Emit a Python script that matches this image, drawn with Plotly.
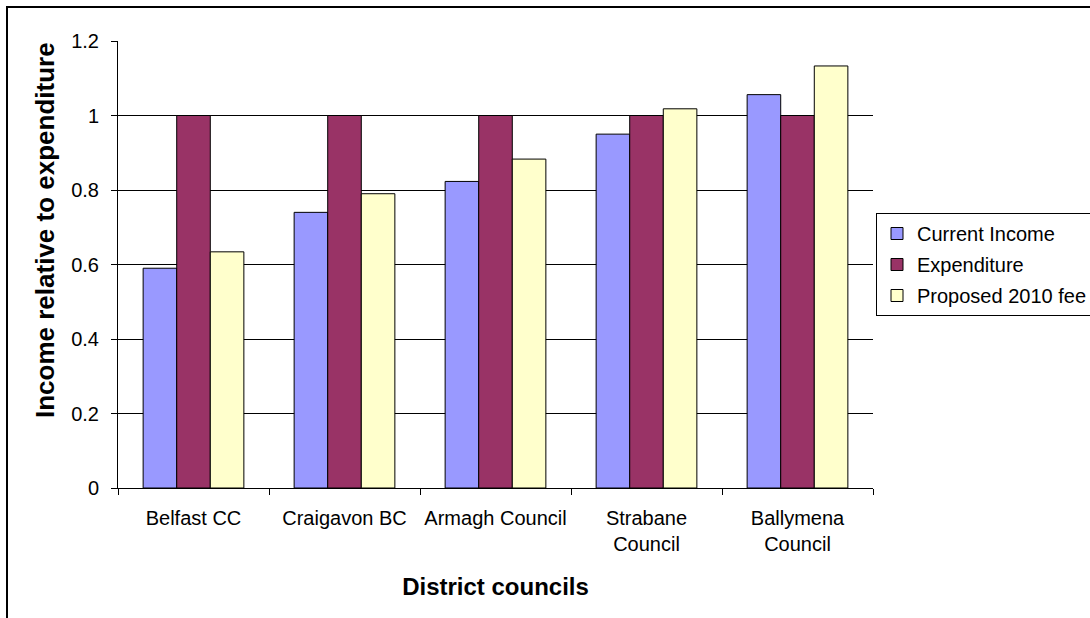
import plotly.graph_objects as go

categories = ["Belfast CC", "Craigavon BC", "Armagh Council", "Strabane<br>Council", "Ballymena<br>Council"]
current_income = [0.59, 0.74, 0.823, 0.95, 1.056]
expenditure = [1.0, 1.0, 1.0, 1.0, 1.0]
proposed_2010 = [0.634, 0.79, 0.883, 1.018, 1.133]
series_names = ["Current Income", "Expenditure", "Proposed 2010 fee"]
series_colors = ["#9999FF", "#993366", "#FFFFCC"]
y_ticks = [0, 0.2, 0.4, 0.6, 0.8, 1.0, 1.2]
y_ticktext = ["0", "0.2", "0.4", "0.6", "0.8", "1", "1.2"]
grid_vals = [0.2, 0.4, 0.6, 0.8, 1.0]

FONT = "Liberation Sans, Arial, sans-serif"

fig = go.Figure()
for name, vals, col in zip(series_names, [current_income, expenditure, proposed_2010], series_colors):
    fig.add_trace(go.Bar(
        x=categories, y=vals, name=name, legendgroup=name,
        marker=dict(color=col, line=dict(color="black", width=1)),
        xaxis="x", yaxis="y",
    ))

W, H = 1090, 618
L, R, T, B = 118, 217, 41, 130
pw, ph = W - L - R, H - T - B

fig.update_layout(
    width=W, height=H,
    margin=dict(l=L, r=R, t=T, b=B, autoexpand=False),
    paper_bgcolor="white", plot_bgcolor="white",
    font=dict(family=FONT, size=20, color="black"),
    barmode="group", bargap=0.333, bargroupgap=0,
    xaxis=dict(
        showline=True, linecolor="black", linewidth=1,
        ticks="outside", ticklen=6, tickcolor="black", tickson="boundaries",
        showgrid=False, tickangle=0, ticklabelstandoff=12,
        tickfont=dict(size=20),
        title=dict(text="<b>District councils</b>", font=dict(size=24), standoff=24),
        automargin=False,
    ),
    yaxis=dict(
        range=[0, 1.2], tickvals=y_ticks, ticktext=y_ticktext,
        showline=True, linecolor="black", linewidth=1,
        ticks="outside", ticklen=6, tickcolor="black",
        ticklabelstandoff=8,
        showgrid=False, zeroline=False,
        tickfont=dict(size=20),
        automargin=False,
    ),
    yaxis2=dict(
        range=[0, 1.2], overlaying="y", tickvals=grid_vals,
        showticklabels=False, ticks="", showline=False,
        showgrid=True, gridcolor="black", gridwidth=1, zeroline=False,
    ),
    legend=dict(
        xref="container", yref="container",
        x=876 / W, xanchor="left",
        y=1 - 213 / H, yanchor="top",
        bordercolor="black", borderwidth=1, bgcolor="white",
        font=dict(size=20), traceorder="grouped", tracegroupgap=2,
    ),
    showlegend=True,
)

# y-axis title (placed as in the reference, slightly above axis centre)
fig.add_annotation(
    text="<b>Income relative to expenditure</b>", textangle=-90,
    xref="paper", yref="paper", x=(45 - L) / pw, y=1 - (230 - T) / ph,
    xanchor="center", yanchor="middle", showarrow=False,
    font=dict(size=26, family=FONT, color="black"),
)

# invisible trace to activate yaxis2 gridlines
fig.add_trace(go.Scatter(x=[categories[0]], y=[0], yaxis="y2", mode="markers",
                         marker=dict(opacity=0), showlegend=False, hoverinfo="skip"))

# outer chart border (clipped on right and bottom like the reference)
fig.add_shape(type="rect", xref="paper", yref="paper",
              x0=(7 - L) / pw, x1=(1100 - L) / pw,
              y0=1 - (630 - T) / ph, y1=1 + (T - 7) / ph,
              line=dict(color="black", width=2), fillcolor="rgba(0,0,0,0)", layer="below")

fig.write_html("out.html")
